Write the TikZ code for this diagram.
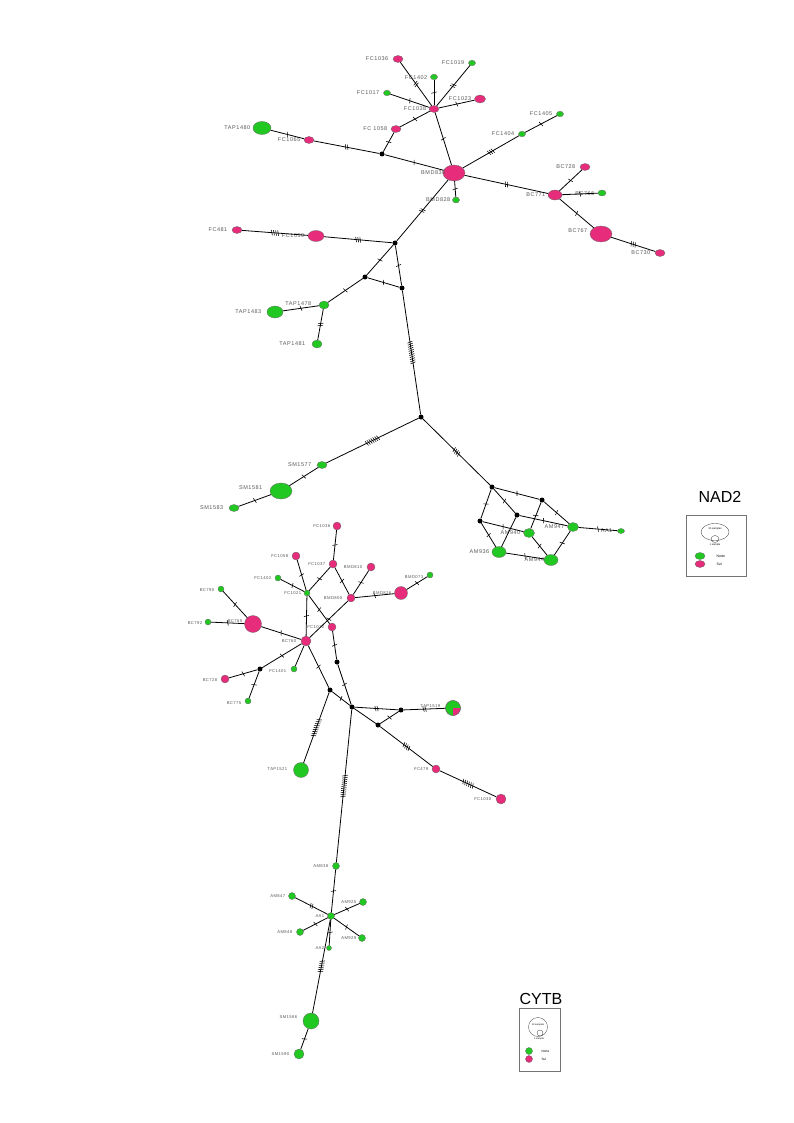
\documentclass[tikz,border=0pt]{standalone}
\usepackage{fontspec}
\setmainfont{Liberation Sans}
\newfontfamily\labfont[LetterSpace=10]{Liberation Sans}
\usetikzlibrary{shapes.geometric,decorations.markings}
\definecolor{sul}{RGB}{232,44,124}
\definecolor{norte}{RGB}{34,200,34}
\tikzset{
  hap/.style={ellipse, draw=black!60, line width=0.3pt, inner sep=0pt},
  sl/.style={fill=sul},
  nt/.style={fill=norte},
  med/.style={circle, fill=black, inner sep=0pt, minimum size=5pt},
  e/.style={line width=0.8pt, black},
  nl/.style={font=\labfont\fontsize{5.5}{6}\selectfont, text=black!65, inner sep=0.5pt},
  cl/.style={font=\labfont\fontsize{4.2}{5}\selectfont, text=black!65, inner sep=0.5pt},
  mut/.style={postaction={decorate,decoration={markings,
    mark=at position 0.5 with {\foreach \k in {1,...,#1}{
      \draw[line width=0.55pt] ({(\k-(#1+1)/2)*2.1-0.7},-2.6) -- ({(\k-(#1+1)/2)*2.1+0.7},2.6);}}}}},
}
% haplotype: style, name, position, width, height, label, label shift, label options
\newcommand\hp[8]{%
  \node[hap,#1,minimum width=#4pt,minimum height=#5pt] (#2) at (#3) {};
  \node[anchor=east,xshift=#7pt,#8] (#2-t) at (#2.center) {#6};}
\begin{document}
\begin{tikzpicture}[x=1pt,y=-1pt]
\useasboundingbox (0,0) rectangle (794,1123);
\fill[white] (0,0) rectangle (794,1123);

% ---------------- NAD2 network ----------------
\hp{sl}{n-BMD830}{454,173}{22}{16}{BMD830}{-8}{nl}
\hp{sl}{n-FC1038}{434,109}{10}{7}{FC1038}{-7}{nl}
\hp{sl}{n-FC1036}{398,59}{10}{7}{FC1036}{-9}{nl}
\hp{nt}{n-FC1402}{434,77}{7}{5.5}{FC1402}{-6}{nl,yshift=-1pt}
\hp{nt}{n-FC1019}{472,63}{7}{5.5}{FC1019}{-7}{nl}
\hp{nt}{n-FC1017}{387,93}{7}{5.5}{FC1017}{-7}{nl}
\hp{sl}{n-FC1023}{480,99}{11}{8}{FC1023}{-8}{nl}
\hp{sl}{n-FC1058}{396,129}{10}{7}{FC 1058}{-8}{nl}
\node[med] (n-m1) at (382,154) {};
\hp{nt}{n-BMD828}{456,200}{7}{6}{BMD828}{-5}{nl}
\hp{nt}{n-TAP1480}{262,128}{18}{13}{TAP1480}{-11}{nl}
\hp{sl}{n-FC1065}{309,140}{10}{7}{FC1065}{-8}{nl}
\hp{nt}{n-FC1404}{522,134}{7}{5.5}{FC1404}{-7}{nl}
\hp{nt}{n-FC1405}{560,114}{7}{5.5}{FC1405}{-7}{nl}
\hp{sl}{n-BC771}{555,195}{14}{10}{BC771}{-9}{nl}
\hp{sl}{n-BC728}{585,167}{10}{7}{BC728}{-9}{nl}
\hp{nt}{n-BC766}{602,193}{8}{6}{BC766}{-7}{nl,yshift=-1pt}
\hp{sl}{n-BC767}{601,234}{22}{16}{BC767}{-13}{nl,yshift=3pt}
\hp{sl}{n-BC730}{660,253}{10}{7}{BC730}{-9}{nl}
\node[med] (n-m2) at (395,243) {};
\hp{sl}{n-FC1059}{316,236}{16}{11}{FC1059}{-11}{nl}
\hp{sl}{n-FC481}{237,230}{10}{7}{FC481}{-9}{nl}
\node[med] (n-m3) at (365,277) {};
\node[med] (n-m4) at (402,288) {};
\hp{nt}{n-TAP1478}{324,305}{10}{8}{TAP1478}{-12}{nl,yshift=1pt}
\hp{nt}{n-TAP1483}{275,312}{16}{12}{TAP1483}{-13}{nl}
\hp{nt}{n-TAP1481}{317,344}{10}{8}{TAP1481}{-11}{nl}
\node[med] (n-m5) at (421,417) {};
\hp{nt}{n-SM1577}{322,465}{10}{7}{SM1577}{-10}{nl}
\hp{nt}{n-SM1581}{281,491}{22}{16}{SM1581}{-18}{nl,yshift=3pt}
\hp{nt}{n-SM1583}{234,508}{10}{7}{SM1583}{-10}{nl}
\node[med] (n-m6) at (492,487) {};
\node[med] (n-m7) at (542,500) {};
\node[med] (n-m8) at (517,515) {};
\node[med] (n-m9) at (480,521) {};
\hp{nt}{n-AM940}{529,533}{11}{9}{AM940}{-8}{nl}
\hp{nt}{n-AM947}{573,527}{11}{9}{AM947}{-8}{nl}
\hp{nt}{n-AA1}{621,531}{7}{5}{AA1}{-8}{nl}
\hp{nt}{n-AM936}{499,552}{14}{11}{AM936}{-9}{nl}
\hp{nt}{n-AM944}{551,560}{14}{11}{AM944}{-6}{nl}

\draw[e,mut=1] (n-BMD830) -- (n-FC1038);
\draw[e,mut=2] (n-FC1038) -- (n-FC1036);
\draw[e,mut=1] (n-FC1038) -- (n-FC1402);
\draw[e,mut=2] (n-FC1038) -- (n-FC1019);
\draw[e,mut=1] (n-FC1038) -- (n-FC1017);
\draw[e,mut=1] (n-FC1038) -- (n-FC1023);
\draw[e,mut=1] (n-FC1038) -- (n-FC1058);
\draw[e,mut=1] (n-FC1058) -- (n-m1);
\draw[e,mut=1] (n-m1) -- (n-BMD830);
\draw[e,mut=2] (n-m1) -- (n-FC1065);
\draw[e,mut=1] (n-FC1065) -- (n-TAP1480);
\draw[e,mut=1] (n-BMD830) -- (n-BMD828);
\draw[e,mut=3] (n-BMD830) -- (n-FC1404);
\draw[e,mut=1] (n-FC1404) -- (n-FC1405);
\draw[e,mut=2] (n-BMD830) -- (n-BC771);
\draw[e,mut=1] (n-BC771) -- (n-BC728);
\draw[e,mut=1] (n-BC771) -- (n-BC766);
\draw[e,mut=1] (n-BC771) -- (n-BC767);
\draw[e,mut=3] (n-BC767) -- (n-BC730);
\draw[e,mut=2] (n-m2) -- (n-BMD830);
\draw[e,mut=3] (n-m2) -- (n-FC1059);
\draw[e,mut=4] (n-FC1059) -- (n-FC481);
\draw[e,mut=1] (n-m2) -- (n-m3);
\draw[e,mut=1] (n-m2) -- (n-m4);
\draw[e,mut=1] (n-m3) -- (n-m4);
\draw[e,mut=1] (n-m3) -- (n-TAP1478);
\draw[e,mut=1] (n-TAP1478) -- (n-TAP1483);
\draw[e,mut=2] (n-TAP1478) -- (n-TAP1481);
\draw[e,mut=11] (n-m4) -- (n-m5);
\draw[e,mut=7] (n-m5) -- (n-SM1577);
\draw[e,mut=1] (n-SM1577) -- (n-SM1581);
\draw[e,mut=1] (n-SM1581) -- (n-SM1583);
\draw[e,mut=4] (n-m5) -- (n-m6);
\draw[e,mut=1] (n-m6) -- (n-m7);
\draw[e,mut=1] (n-m6) -- (n-m8);
\draw[e,mut=1] (n-m6) -- (n-m9);
\draw[e,mut=1] (n-m7) -- (n-AM940);
\draw[e,mut=1] (n-m7) -- (n-AM947);
\draw[e,mut=1] (n-m8) -- (n-AM947);
\draw[e] (n-m8) -- (n-AM936);
\draw[e,mut=1] (n-m9) -- (n-AM940);
\draw[e,mut=1] (n-m9) -- (n-AM936);
\draw[e,mut=1] (n-AM940) -- (n-AM944);
\draw[e,mut=1] (n-AM947) -- (n-AM944);
\draw[e,mut=1] (n-AM936) -- (n-AM944);
\draw[e,mut=1] (n-AM947) -- (n-AA1);

% NAD2 legend
\node[font=\fontsize{16}{16}\selectfont] (nad-title) at (720,497) {NAD2};
\node[draw=black!55, line width=0.4pt, minimum width=60pt, minimum height=61pt, inner sep=0pt] (nad-box) at (716,546) {};
\node[hap, draw=black!80, minimum width=28pt, minimum height=17pt] (nad-big) at (715,532) {};
\node[font=\fontsize{2.6}{3}\selectfont] (nad-t10) at (715,528.5) {10 samples};
\node[hap, draw=black!80, minimum width=8pt, minimum height=7pt] (nad-small) at (715,539) {};
\node[font=\fontsize{2.6}{3}\selectfont] (nad-t1) at (715,545) {1 sample};
\node[hap, nt, minimum width=10pt, minimum height=7pt] (nad-g) at (700,556) {};
\node[font=\fontsize{3.5}{4}\selectfont, anchor=west] (nad-norte) at (713,556) {Norte};
\node[hap, sl, minimum width=10pt, minimum height=7pt] (nad-p) at (700,564) {};
\node[font=\fontsize{3.5}{4}\selectfont, anchor=west] (nad-sul) at (713,564) {Sul};

% ---------------- CYTB network ----------------
\hp{sl}{c-FC1036}{337,526}{8}{8}{FC1036}{-6}{cl}
\hp{sl}{c-FC1037}{333,564}{8}{8}{FC1037}{-7}{cl}
\hp{sl}{c-BMD810}{371,567}{8}{8}{BMD810}{-8}{cl}
\hp{sl}{c-FC1058}{296,556}{8}{8}{FC1058}{-7}{cl}
\hp{nt}{c-FC1402}{278,578}{6}{6}{FC1402}{-6}{cl}
\hp{nt}{c-FC1021}{307,593}{6}{6}{FC1021}{-5}{cl}
\hp{sl}{c-BMD800}{351,598}{8}{8}{BMD800}{-8}{cl}
\hp{sl}{c-BMD826}{401,593}{13}{13}{BMD826}{-9}{cl}
\hp{nt}{c-BMD073}{430,575}{6}{6}{BMD073}{-6}{cl,yshift=-2pt}
\hp{nt}{c-BC790}{221,589}{6}{6}{BC790}{-6}{cl,yshift=-1pt}
\hp{sl}{c-BC765}{253,624}{17}{17}{BC765}{-10}{cl,yshift=3pt}
\hp{nt}{c-BC792}{208,622}{6}{6}{BC792}{-5}{cl,yshift=-1pt}
\hp{sl}{c-FC1012}{332,627}{8}{8}{FC1012}{-7}{cl}
\hp{sl}{c-BC760}{306,641}{10}{10}{BC760}{-9}{cl}
\node[med] (c-m1) at (260,669) {};
\hp{nt}{c-FC1401}{294,669}{6}{6}{FC1401}{-7}{cl,yshift=-2pt}
\hp{sl}{c-BC728}{225,679}{8}{8}{BC728}{-7}{cl,yshift=-1pt}
\hp{nt}{c-BC775}{248,701}{6}{6}{BC775}{-6}{cl,yshift=-2pt}
\node[med] (c-m2) at (337,662) {};
\node[med] (c-m3) at (330,690) {};
\node[med] (c-m4) at (352,707) {};
\node[med] (c-m5) at (401,710) {};
\node[med] (c-m6) at (378,725) {};
\hp{nt}{c-TAP1519}{453,708}{15}{15}{TAP1519}{-12}{cl,yshift=2pt}
\fill[sul] (c-TAP1519.center) -- ++(7.5,0) arc[start angle=0, end angle=90, radius=7.5] -- cycle;
\node[hap, minimum width=15pt, minimum height=15pt] (c-TAP1519-rim) at (c-TAP1519.center) {};
\hp{nt}{c-TAP1521}{301,770}{15}{15}{TAP1521}{-13}{cl,yshift=1pt}
\hp{sl}{c-FC479}{436,769}{8}{8}{FC479}{-7}{cl}
\hp{sl}{c-FC1030}{501,799}{10}{10}{FC1030}{-9}{cl}
\hp{nt}{c-AM838}{336,866}{7}{7}{AM838}{-7}{cl}
\hp{nt}{c-AA1}{331,916}{7}{7}{AA1}{-6}{cl}
\hp{nt}{c-AM847}{292,896}{7}{7}{AM847}{-6}{cl}
\hp{nt}{c-AM925}{363,902}{7}{7}{AM925}{-6}{cl}
\hp{nt}{c-AM848}{300,932}{7}{7}{AM848}{-7}{cl}
\hp{nt}{c-AM929}{362,938}{7}{7}{AM929}{-5}{cl}
\hp{nt}{c-AA2}{329,948}{5}{5}{AA2}{-4}{cl}
\hp{nt}{c-SM1586}{311,1021}{16}{16}{SM1586}{-13}{cl,yshift=4pt}
\hp{nt}{c-SM1590}{299,1054}{10}{10}{SM1590}{-9}{cl}

\draw[e,mut=1] (c-FC1036) -- (c-FC1037);
\draw[e,mut=1] (c-FC1037) -- (c-FC1021);
\draw[e,mut=1] (c-FC1037) -- (c-BMD800);
\draw[e,mut=1] (c-BMD800) -- (c-BMD810);
\draw[e,mut=1] (c-BMD800) -- (c-BMD826);
\draw[e,mut=1] (c-BMD826) -- (c-BMD073);
\draw[e,mut=1] (c-FC1058) -- (c-FC1021);
\draw[e,mut=1] (c-FC1402) -- (c-FC1021);
\draw[e,mut=1] (c-FC1021) -- (c-BC760);
\draw[e,mut=1] (c-FC1021) -- (c-FC1012);
\draw[e,mut=1] (c-BMD800) -- (c-BC760);
\draw[e,mut=1] (c-BC790) -- (c-BC765);
\draw[e,mut=1] (c-BC792) -- (c-BC765);
\draw[e,mut=1] (c-BC765) -- (c-BC760);
\draw[e,mut=1] (c-BC760) -- (c-m1);
\draw[e,mut=1] (c-m1) -- (c-BC728);
\draw[e,mut=1] (c-m1) -- (c-BC775);
\draw[e] (c-BC760) -- (c-FC1401);
\draw[e,mut=1] (c-BC760) -- (c-m3);
\draw[e,mut=1] (c-FC1012) -- (c-m2);
\draw[e,mut=1] (c-m2) -- (c-m4);
\draw[e,mut=1] (c-m3) -- (c-m4);
\draw[e,mut=9] (c-m3) -- (c-TAP1521);
\draw[e,mut=2] (c-m4) -- (c-m5);
\draw[e,mut=2] (c-m5) -- (c-TAP1519);
\draw[e] (c-m4) -- (c-m6);
\draw[e,mut=1] (c-m6) -- (c-m5);
\draw[e,mut=4] (c-m6) -- (c-FC479);
\draw[e,mut=6] (c-FC479) -- (c-FC1030);
\draw[e,mut=11] (c-m4) -- (c-AM838);
\draw[e,mut=1] (c-AM838) -- (c-AA1);
\draw[e,mut=2] (c-AA1) -- (c-AM847);
\draw[e,mut=1] (c-AA1) -- (c-AM925);
\draw[e,mut=1] (c-AA1) -- (c-AM848);
\draw[e,mut=1] (c-AA1) -- (c-AM929);
\draw[e,mut=1] (c-AA1) -- (c-AA2);
\draw[e,mut=6] (c-AA1) -- (c-SM1586);
\draw[e,mut=1] (c-SM1586) -- (c-SM1590);

% CYTB legend
\node[font=\fontsize{16}{16}\selectfont] (cyt-title) at (541,999) {CYTB};
\node[draw=black!55, line width=0.4pt, minimum width=41pt, minimum height=63pt, inner sep=0pt] (cyt-box) at (540,1040) {};
\node[hap, draw=black!80, minimum width=19pt, minimum height=19pt] (cyt-big) at (538,1027) {};
\node[font=\fontsize{2.4}{3}\selectfont] (cyt-t10) at (538,1025) {10 samples};
\node[hap, draw=black!80, minimum width=6pt, minimum height=6pt] (cyt-small) at (540,1033) {};
\node[font=\fontsize{2.4}{3}\selectfont] (cyt-t1) at (539,1039) {1 sample};
\node[hap, nt, minimum width=7pt, minimum height=7pt] (cyt-g) at (529,1051) {};
\node[font=\fontsize{3.2}{4}\selectfont, anchor=west] (cyt-norte) at (538,1051) {Norte};
\node[hap, sl, minimum width=7pt, minimum height=7pt] (cyt-p) at (529,1059) {};
\node[font=\fontsize{3.2}{4}\selectfont, anchor=west] (cyt-sul) at (538,1059.5) {Sul};
\end{tikzpicture}
\end{document}
